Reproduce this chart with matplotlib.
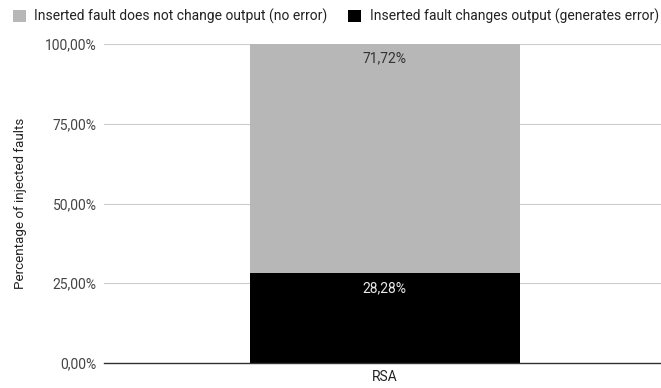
import matplotlib
matplotlib.use("Agg")
import matplotlib.pyplot as plt
from matplotlib.patches import Patch
from matplotlib.ticker import FuncFormatter

plt.rcParams['font.family'] = ['Roboto', 'DejaVu Sans']

categories = ["RSA"]
error_pct = [28.28]
no_error_pct = [71.72]
series_names = ["Inserted fault does not change output (no error)",
                "Inserted fault changes output (generates error)"]
yticks = [0, 25, 50, 75, 100]

fig = plt.figure(figsize=(6.61, 3.88), dpi=100)
ax = fig.add_axes([0.157, 0.0644, 0.850, 0.8222])

c_gray = "#b7b7b7"
c_black = "#000000"
x = list(range(len(categories)))
ax.bar(x, error_pct, width=0.48, color=c_black, zorder=3)
ax.bar(x, no_error_pct, bottom=error_pct, width=0.48, color=c_gray, zorder=3)

def fmt(v):
    return f"{v:.2f}".replace(".", ",") + "%"

for i in x:
    top_err = error_pct[i]
    top_all = error_pct[i] + no_error_pct[i]
    ax.annotate(fmt(error_pct[i]), (i, top_err), xytext=(0, -11.5), textcoords="offset points",
                ha="center", va="center", color="#e8e8e8", fontsize=10, zorder=4)
    ax.annotate(fmt(no_error_pct[i]), (i, top_all), xytext=(0, -10.5), textcoords="offset points",
                ha="center", va="center", color="#333333", fontsize=10, zorder=4)

ax.set_xlim(-0.5, 0.5)
ax.set_ylim(0, 100)
ax.set_yticks(yticks)
ax.yaxis.set_major_formatter(FuncFormatter(lambda v, p: fmt(v)))
ax.set_xticks(x)
ax.set_xticklabels(categories)
ax.grid(axis="y", color="#cccccc", linewidth=0.8, zorder=0)
for s in ["top", "right", "left"]:
    ax.spines[s].set_visible(False)
ax.spines["bottom"].set_color("#333333")
ax.spines["bottom"].set_linewidth(1.0)
ax.spines["bottom"].set_zorder(5)
ax.tick_params(axis="y", length=0, pad=5, labelsize=10, labelcolor="#444444")
ax.tick_params(axis="x", length=0, pad=5, labelsize=10, labelcolor="#222222")
ax.set_ylabel("Percentage of injected faults", fontsize=9.6, color="#222222", labelpad=13)

handles = [Patch(facecolor=c_gray, edgecolor="none"), Patch(facecolor=c_black, edgecolor="none")]
fig.legend(handles, series_names, loc="upper left", bbox_to_anchor=(0.0, 1.01), ncol=2,
           frameon=False, fontsize=10, handlelength=0.95, handleheight=0.95,
           handletextpad=0.6, columnspacing=1.5, labelcolor="#222222")

fig.savefig("out.png", dpi=100)
